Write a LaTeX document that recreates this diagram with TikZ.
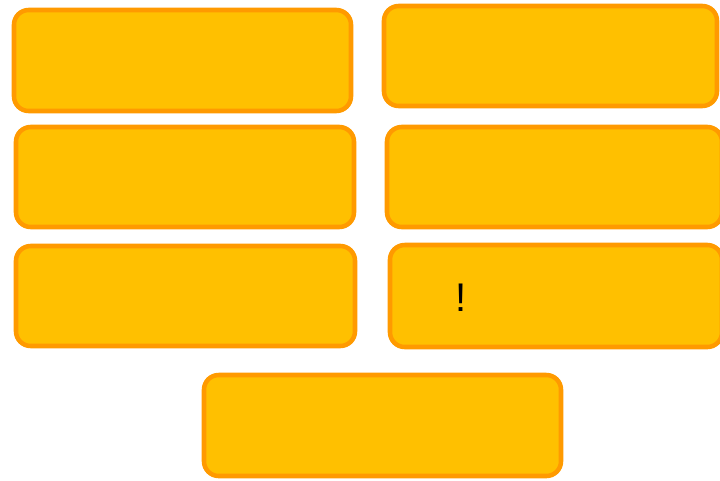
\documentclass[tikz,border=0pt]{standalone}
\usepackage{fontspec}
\setmainfont{Liberation Sans}
\definecolor{cardfill}{HTML}{FFC000}
\definecolor{cardline}{HTML}{FF9A00}
\begin{document}
\begin{tikzpicture}[x=0.75pt,y=-0.75pt,
  card/.style={draw=cardline,fill=cardfill,line width=3.4pt,rounded corners=11pt,inner sep=0pt}]
\useasboundingbox (0,0) rectangle (720,480);
\clip (0,0) rectangle (720,480);
\node[card,minimum width=337*0.75pt,minimum height=101*0.75pt] (b1) at (182.5,60.5) {};
\node[card,minimum width=333*0.75pt,minimum height=100*0.75pt] (b2) at (550.5,56) {};
\node[card,minimum width=338*0.75pt,minimum height=100*0.75pt] (b3) at (185,177) {};
\node[card,minimum width=335*0.75pt,minimum height=100*0.75pt] (b4) at (554.5,177) {};
\node[card,minimum width=339*0.75pt,minimum height=100*0.75pt] (b5) at (185.5,296) {};
\node[card,minimum width=332*0.75pt,minimum height=102*0.75pt] (b6) at (556,296) {};
\node[card,minimum width=357*0.75pt,minimum height=101*0.75pt] (b7) at (382.5,425.5) {};
\node[font=\fontsize{30}{34}\selectfont,inner sep=0pt] (ex) at (461,298) {!};
\end{tikzpicture}
\end{document}
